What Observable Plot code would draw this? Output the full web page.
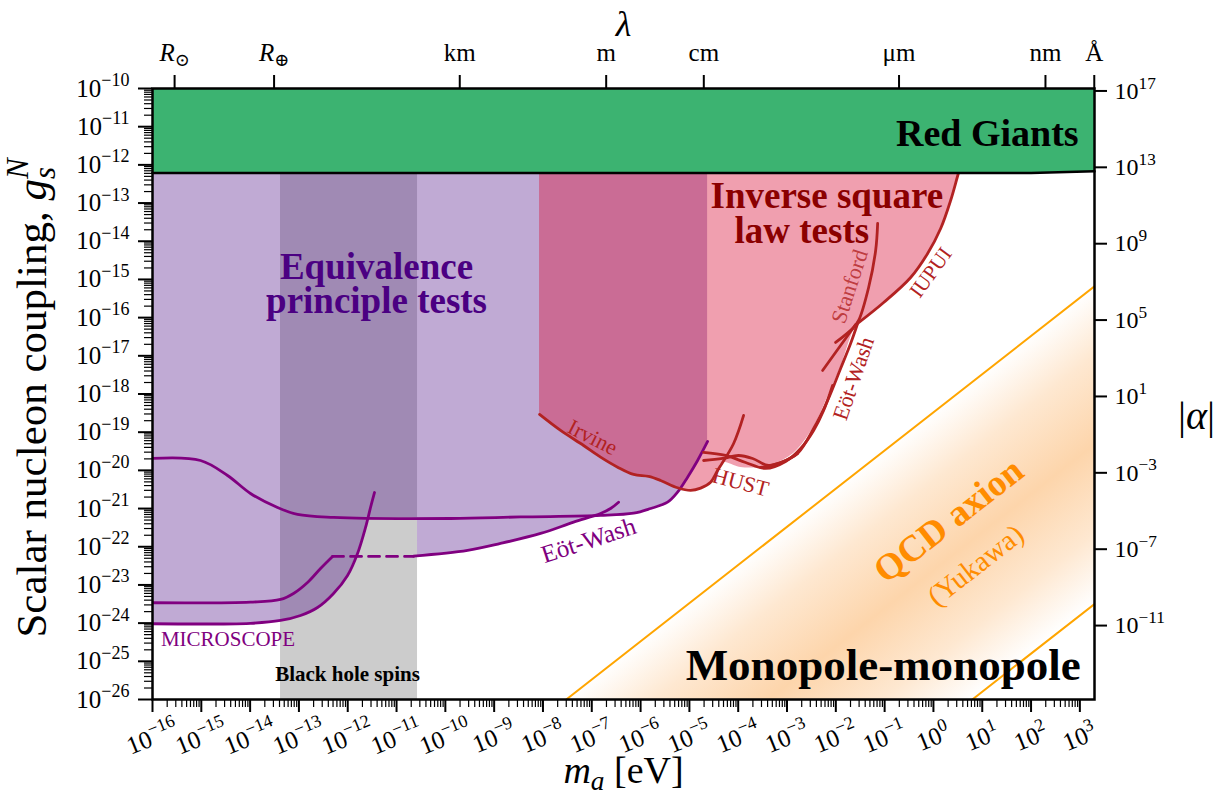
<!DOCTYPE html>
<html><head><meta charset="utf-8">
<script src="https://cdn.jsdelivr.net/npm/d3@7"></script>
<script src="https://cdn.jsdelivr.net/npm/@observablehq/plot@0.6"></script>
<style>html,body{margin:0;padding:0;background:#fff;}</style>
</head><body><div id="chart"></div>
<script>
// ===== data (log10 values) =====
const massExponents = d3.range(-16, 4);          // bottom ticks 10^-16 .. 10^3
const couplingExponents = d3.range(-26, -9);     // left ticks 10^-26 .. 10^-10
const lambdaMeters = [6.957e8, 6.371e6, 1e3, 1, 1e-2, 1e-6, 1e-9, 1e-10];
const lambdaLabels = ["*R*_{⊙}", "*R*_{⊕}", "km", "m", "cm", "μm", "nm", "Å"];
const alphaExponents = [17, 13, 9, 5, 1, -3, -7, -11];

// Red giants bound
const redGiantsLm = [-16, 2, 3.3];
const redGiantsLg = [-12.21, -12.21, -12.17];

// Black hole spins mass window
const bhSpinsLm = [-13.377, -10.570];

// Equivalence-principle excluded region (lower edge)
const epFillLm = [-16, -13.992, -13.377, -12.967, -12.619, -12.291, -12.004, -11.799, -11.635, -11.584, -10.57, -10.57, -9.545, -8.869, -8.049, -7.373, -6.957, -6.820, -6.143, -5.795, -5.447, -5.242, -5.037, -4.832, -4.627];
const epFillLg = [-24.017, -24.004, -23.930, -23.800, -23.590, -23.223, -22.752, -22.176, -21.495, -21.233, -21.245, -22.24, -22.097, -21.914, -21.652, -21.356, -21.184, -21.181, -21.121, -20.998, -20.833, -20.571, -20.178, -19.741, -19.243];

// EP curves
const epUpperLm = [-16, -15.016, -14.463, -13.992, -13.439, -13.029, -12.291, -9.893, -8.459, -6.820, -6.143, -5.795, -5.447, -5.242, -5.037, -4.832, -4.627];
const epUpperLg = [-19.688, -19.741, -20.134, -20.605, -20.972, -21.155, -21.233, -21.260, -21.220, -21.181, -21.121, -20.998, -20.833, -20.571, -20.178, -19.741, -19.243];
const microLowLm = [-16, -13.992, -13.377, -12.967, -12.619, -12.291, -12.004, -11.799, -11.635, -11.533, -11.451];
const microLowLg = [-24.017, -24.004, -23.930, -23.800, -23.590, -23.223, -22.752, -22.176, -21.495, -20.972, -20.579];
const microHighLm = [-16, -13.992, -13.377, -13.111, -12.824, -12.557, -12.311];
const microHighLg = [-23.467, -23.451, -23.380, -23.223, -22.935, -22.569, -22.254];
const bhGapLm = [-12.311, -10.652];
const bhGapLg = [-22.254, -22.254];
const eotWashEpLm = [-10.652, -9.545, -8.869, -8.049, -7.373, -6.820, -6.615, -6.451];
const eotWashEpLg = [-22.246, -22.097, -21.914, -21.652, -21.356, -21.128, -20.998, -20.833];

// Inverse-square-law excluded region (lower edge)
const islFillLm = [-8.070, -7.639, -7.168, -6.820, -6.471, -6.143, -5.836, -5.590, -5.242, -4.975, -4.770, -4.566, -4.422, -4.320, -3.951, -3.541, -3.275, -2.865, -2.455, -2.168, -1.902, -1.635, -1.533, -1.020, -0.467, -0.119, 0.148, 0.352, 0.516, 0.680];
const islFillLg = [-18.536, -18.955, -19.348, -19.654, -19.916, -20.107, -20.160, -20.264, -20.456, -20.526, -20.466, -20.309, -20.003, -19.793, -19.924, -19.924, -19.846, -19.558, -18.877, -18.091, -17.306, -16.337, -16.153, -15.604, -14.949, -14.320, -13.666, -12.933, -12.200, -11.493];

// ISL curves
const irvineLm = [-8.070, -7.639, -7.168, -6.820, -6.471, -6.143, -5.836, -5.590, -5.242, -4.975, -4.770, -4.566, -4.422, -4.094, -3.889];
const irvineLg = [-18.536, -18.955, -19.348, -19.654, -19.916, -20.107, -20.160, -20.264, -20.456, -20.526, -20.466, -20.309, -20.003, -19.296, -18.562];
const hust1Lm = [-4.709, -4.258, -3.848, -3.439, -3.029, -2.721, -2.455, -2.250, -2.066];
const hust1Lg = [-19.531, -19.610, -19.793, -19.950, -19.767, -19.427, -18.955, -18.432, -17.777];
const hust2Lm = [-4.709, -4.320, -3.992, -3.705, -3.377, -3.029, -2.783];
const hust2Lg = [-19.741, -19.688, -19.610, -19.688, -19.872, -19.741, -19.558];
const eotWashIslLm = [-3.541, -3.131, -2.783, -2.455, -2.168, -1.902, -1.697, -1.553];
const eotWashIslLg = [-19.924, -19.793, -19.558, -18.903, -18.170, -17.332, -16.677, -16.153];
const eotWashShortLm = [-2.271, -1.594];
const eotWashShortLg = [-17.384, -16.180];
const stanfordLm = [-1.143, -1.184, -1.328, -1.533, -1.635, -2.004];
const stanfordLg = [-13.535, -14.242, -15.211, -16.075, -16.258, -16.651];
const iupuiLm = [-1.553, -1.020, -0.467, -0.119, 0.148, 0.352, 0.516, 0.680];
const iupuiLg = [-16.153, -15.604, -14.949, -14.320, -13.666, -12.933, -12.200, -11.493];

// QCD axion (Yukawa) band edges
const qcdUpperLm = [-7.523, 3.3];
const qcdUpperLg = [-26, -15.18];
const qcdLowerLm = [0.797, 3.3];
const qcdLowerLg = [-26, -23.50];
const qcdBandLm = [-7.523, 3.3];
const qcdBandTopLg = [-26, -15.18];
const qcdBandBottomLg = [-34.32, -23.50];

// text labels (text, log10 m, log10 g)
const labelText = ["Red Giants", "Inverse square\nlaw tests", "Equivalence\nprinciple tests", "MICROSCOPE", "Black hole spins", "Monopole-monopole", "Eöt-Wash", "Irvine", "HUST", "Stanford", "Eöt-Wash", "IUPUI", "QCD axion", "(Yukawa)"];
const labelLm = [2.975, -2.440, -11.41, -14.453, -12.004, 3.016, -7.066, -6.984, -3.951, -1.717, -1.635, -0.057, 0.311, 0.865];
const labelLg = [-11.19, -13.286, -15.158, -24.42, -25.344, -25.122, -21.836, -19.139, -20.317, -15.185, -17.594, -14.818, -21.312, -22.49];

// ===== helpers =====
const P = v => 10 ** v;
const hbarc = 1.97327e-7; // eV m
const mN_over_MPl = 0.93957 / 1.22089e19;
const alphaK = 1 / (4 * Math.PI * mN_over_MPl ** 2);
const line = (lm, lg) => lm.map((m, i) => ({x: P(m), y: P(lg[i])}));
const band = (lm, lo, hi) => lm.map((m, i) => ({x: P(m), y1: P(lo[i]), y2: hi ? P(hi[i]) : 1e-10}));
const expFmt = e => "10^{" + String(e).replace("-", "−") + "}";
const lab = i => [{x: P(labelLm[i]), y: P(labelLg[i]), t: labelText[i]}];

const xMinor = [], yMinor = [];
for (const d of massExponents) for (let k = 2; k <= 9; k++) if (k * 10 ** d <= 1995) xMinor.push(k * 10 ** d);
for (const d of couplingExponents.slice(0, -1)) for (let k = 2; k <= 9; k++) yMinor.push(k * 10 ** d);

const lambdaMass = lambdaMeters.map(l => hbarc / l);
const lambdaMap = new Map(lambdaMass.map((m, i) => [m, lambdaLabels[i]]));
const alphaG = alphaExponents.map(a => Math.sqrt(10 ** a / alphaK));
const alphaMap = new Map(alphaG.map((g, i) => [g, expFmt(alphaExponents[i])]));

const purple = "#800080", red = "#b22222";
const lineOpts = (stroke, extra = {}) => ({x: "x", y: "y", stroke, strokeWidth: 2.8, curve: "catmull-rom", clip: true, ...extra});

function gradientDefs(index, scales) {
  const NS = "http://www.w3.org/2000/svg";
  const {x, y} = scales;
  const ax = x(P(qcdUpperLm[0])), ay = y(P(qcdUpperLg[0]));
  const bx = x(P(qcdUpperLm[1])), by = y(P(qcdUpperLg[1]));
  let dx = bx - ax, dy = by - ay; const L = Math.hypot(dx, dy); dx /= L; dy /= L;
  const nx = -dy, ny = dx;
  const cx = x(P(qcdLowerLm[0])), cy = y(P(qcdLowerLg[0]));
  const dist = (cx - ax) * nx + (cy - ay) * ny;
  const defs = document.createElementNS(NS, "defs");
  const g = document.createElementNS(NS, "linearGradient");
  g.setAttribute("id", "qcdGrad");
  g.setAttribute("gradientUnits", "userSpaceOnUse");
  g.setAttribute("x1", ax); g.setAttribute("y1", ay);
  g.setAttribute("x2", ax + nx * dist); g.setAttribute("y2", ay + ny * dist);
  [[0, 0], [0.22, 0.55], [0.5, 1], [0.78, 0.55], [1, 0]].forEach(([o, op]) => {
    const s = document.createElementNS(NS, "stop");
    s.setAttribute("offset", o); s.setAttribute("stop-color", "#fdd5ab"); s.setAttribute("stop-opacity", op);
    g.appendChild(s);
  });
  defs.appendChild(g);
  return defs;
}

const chart = Plot.plot({
  width: 1225, height: 798,
  marginLeft: 152, marginRight: 131, marginTop: 88, marginBottom: 99,
  style: {fontFamily: "'Liberation Serif', 'DejaVu Serif', serif", fontSize: "23px", background: "white", color: "black"},
  x: {type: "log", domain: [1e-16, 1995], axis: null},
  y: {type: "log", domain: [1e-26, 1e-10], axis: null},
  marks: [
    gradientDefs,
    // black hole spins
    Plot.rect([bhSpinsLm], {x1: d => P(d[0]), x2: d => P(d[1]), y1: 1e-26, y2: 1e-10, fill: "#cccccc"}),
    // QCD band
    Plot.areaY(band(qcdBandLm, qcdBandBottomLg, qcdBandTopLg), {x: "x", y1: "y1", y2: "y2", fill: "url(#qcdGrad)", clip: true}),
    // EP region
    Plot.areaY(band(epFillLm, epFillLg), {x: "x", y1: "y1", y2: "y2", fill: "rgb(86,27,140)", fillOpacity: 0.373, clip: true}),
    // ISL region
    Plot.areaY(band(islFillLm, islFillLg), {x: "x", y1: "y1", y2: "y2", fill: "rgb(217,16,56)", fillOpacity: 0.4, curve: "catmull-rom", clip: true}),
    // QCD lines
    Plot.line(line(qcdUpperLm, qcdUpperLg), {x: "x", y: "y", stroke: "orange", strokeWidth: 2, clip: true}),
    Plot.line(line(qcdLowerLm, qcdLowerLg), {x: "x", y: "y", stroke: "orange", strokeWidth: 2, clip: true}),
    // EP curves
    Plot.line(line(epUpperLm, epUpperLg), lineOpts(purple)),
    Plot.line(line(microLowLm, microLowLg), lineOpts(purple)),
    Plot.line(line(microHighLm, microHighLg), lineOpts(purple)),
    Plot.line(line(bhGapLm, bhGapLg), lineOpts(purple, {strokeDasharray: "11,7", curve: "linear"})),
    Plot.line(line(eotWashEpLm, eotWashEpLg), lineOpts(purple)),
    // ISL curves
    Plot.line(line(irvineLm, irvineLg), lineOpts(red)),
    Plot.line(line(hust1Lm, hust1Lg), lineOpts(red)),
    Plot.line(line(hust2Lm, hust2Lg), lineOpts(red)),
    Plot.line(line(eotWashIslLm, eotWashIslLg), lineOpts(red)),
    Plot.line(line(eotWashShortLm, eotWashShortLg), lineOpts(red)),
    Plot.line(line(stanfordLm, stanfordLg), lineOpts(red)),
    Plot.line(line(iupuiLm, iupuiLg), lineOpts(red)),
    // red giants
    Plot.areaY(band(redGiantsLm, redGiantsLg), {x: "x", y1: "y1", y2: "y2", fill: "#3cb371"}),
    Plot.line(line(redGiantsLm, redGiantsLg), {x: "x", y: "y", stroke: "black", strokeWidth: 2.5}),
    // labels
    Plot.text(lab(0), {x: "x", y: "y", text: "t", textAnchor: "end", fontSize: 38, fontWeight: "bold", fill: "black"}),
    Plot.text(lab(1), {x: "x", y: "y", text: "t", fontSize: 37, lineHeight: 0.97, fontWeight: "bold", fill: "#8b0000"}),
    Plot.text(lab(2), {x: "x", y: "y", text: "t", fontSize: 37, lineHeight: 0.92, fontWeight: "bold", fill: "#4b0082"}),
    Plot.text(lab(3), {x: "x", y: "y", text: "t", fontSize: 21, fill: purple}),
    Plot.text(lab(4), {x: "x", y: "y", text: "t", fontSize: 21, fontWeight: "bold", fill: "black"}),
    Plot.text(lab(5), {x: "x", y: "y", text: "t", textAnchor: "end", fontSize: 45, fontWeight: "bold", fill: "black"}),
    Plot.text(lab(6), {x: "x", y: "y", text: "t", fontSize: 25, rotate: -18, fill: purple}),
    Plot.text(lab(7), {x: "x", y: "y", text: "t", fontSize: 22, rotate: 27, fill: red}),
    Plot.text(lab(8), {x: "x", y: "y", text: "t", fontSize: 22, rotate: 15, fill: red}),
    Plot.text(lab(9), {x: "x", y: "y", text: "t", fontSize: 22, rotate: -72, fill: red, fillOpacity: 0.8}),
    Plot.text(lab(10), {x: "x", y: "y", text: "t", fontSize: 22, rotate: -71, fill: red}),
    Plot.text(lab(11), {x: "x", y: "y", text: "t", fontSize: 21, rotate: -54, fill: red}),
    Plot.text(lab(12), {x: "x", y: "y", text: "t", fontSize: 37, rotate: -38, fontWeight: "bold", fill: "darkorange"}),
    Plot.text(lab(13), {x: "x", y: "y", text: "t", fontSize: 29, rotate: -38, fill: "darkorange"}),
    Plot.frame({stroke: "black", strokeWidth: 2.5}),
    // axes
    Plot.axisY({anchor: "left", ticks: yMinor, tickSize: 8, tickFormat: () => "", strokeWidth: 1.2, label: null}),
    Plot.axisY({anchor: "left", ticks: couplingExponents.map(P), tickSize: 14, tickPadding: 9, strokeWidth: 2, tickFormat: g => expFmt(Math.round(Math.log10(g))), fontSize: 25, label: null}),
    Plot.axisX({anchor: "bottom", ticks: xMinor, tickSize: 8, tickFormat: () => "", strokeWidth: 1.2, label: null}),
    Plot.axisX({anchor: "bottom", ticks: massExponents.map(P), tickSize: 13, tickFormat: () => "", strokeWidth: 2, label: null}),
    Plot.text(massExponents, {x: e => P(e), frameAnchor: "bottom", dy: 38, rotate: -22, text: expFmt, fontSize: 25, textAnchor: "middle", lineAnchor: "middle"}),
    Plot.axisX({anchor: "top", ticks: lambdaMass, tickSize: 14, tickPadding: 14, strokeWidth: 2, tickFormat: m => lambdaMap.get(m), fontSize: 25, label: null}),
    Plot.axisY({anchor: "right", ticks: alphaG, tickSize: 12, tickPadding: 8, strokeWidth: 2, tickFormat: g => alphaMap.get(g), fontSize: 24, label: null}),
    // axis titles
    Plot.text([0], {frameAnchor: "left", dx: -120, dy: 4, rotate: -90, textAnchor: "middle", lineAnchor: "middle", text: () => "Scalar nucleon coupling, *g*_{*s*}^{*N*}", fontSize: 43}),
    Plot.text([0], {frameAnchor: "bottom", dy: 71, textAnchor: "middle", lineAnchor: "middle", text: () => "*m*_{*a*} [eV]", fontSize: 38}),
    Plot.text([0], {frameAnchor: "top", dy: -64, textAnchor: "middle", lineAnchor: "middle", text: () => "*λ*", fontSize: 36}),
    Plot.text([0], {frameAnchor: "right", dx: 102, dy: 22, textAnchor: "middle", lineAnchor: "middle", text: () => "|*α*|", fontSize: 40})
  ]
});
document.getElementById("chart").append(chart);

// minimal markup: ^{sup} _{sub} *italic*
(function applyMarkup(svg) {
  const NS = "http://www.w3.org/2000/svg";
  const re = /(\^\{[^}]*\}|_\{[^}]*\}|\*[^*{}]+\*)/;
  svg.querySelectorAll("text").forEach(t => {
    if (t.querySelector("tspan")) return;
    const s = t.textContent;
    if (!/\^\{|_\{|\*/.test(s)) return;
    const F = parseFloat(getComputedStyle(t).fontSize) || 16;
    t.textContent = "";
    let cur = 0, prevSub = null;
    for (const p of s.split(re)) {
      if (!p) continue;
      const sp = document.createElementNS(NS, "tspan");
      let target = 0, txt = p, small = false;
      const isSup = p.startsWith("^{"), isSub = p.startsWith("_{");
      if (isSup) { target = -0.42 * F; txt = p.slice(2, -1); small = true; }
      else if (isSub) { target = 0.2 * F; txt = p.slice(2, -1); small = true; }
      let italic = false;
      if (txt.length > 2 && txt.startsWith("*") && txt.endsWith("*")) { italic = true; txt = txt.slice(1, -1); }
      sp.textContent = txt;
      if (small) sp.setAttribute("font-size", (0.72 * F) + "px");
      if (italic) sp.setAttribute("font-style", "italic");
      if (target !== cur) sp.setAttribute("dy", (target - cur) + "px");
      t.appendChild(sp);
      if (isSup && prevSub) sp.setAttribute("dx", (-prevSub.getComputedTextLength()) + "px");
      cur = target;
      prevSub = isSub ? sp : null;
    }
  });
  // the two lines of the inverse-square title are not centred on each other in the original
  for (const t of svg.querySelectorAll("text")) {
    if (t.textContent.startsWith("Inverse square")) {
      const lines = t.querySelectorAll("tspan");
      if (lines.length === 2) { lines[0].setAttribute("dx", "12.5"); lines[1].setAttribute("dx", "-12.5"); }
    }
  }
})(chart);
</script></body></html>
